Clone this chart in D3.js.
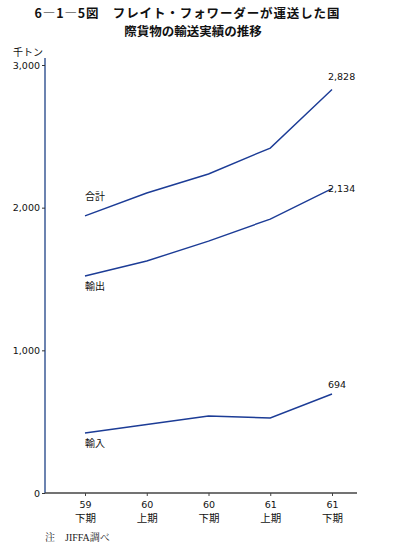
<!DOCTYPE html>
<html><head><meta charset="utf-8">
<script src="https://cdn.jsdelivr.net/npm/d3@7"></script>
<style>body{margin:0;background:#fff}svg{display:block}text{font-family:"Noto Sans CJK JP","Noto Sans",sans-serif}</style>
</head><body><svg id="c" width="394" height="555"></svg>
<script>
const periods = ["59", "60", "60", "61", "61"];
const halves = ["下期", "上期", "下期", "上期", "下期"];
const totalVals = [1942, 2103, 2236, 2418, 2828];
const exportVals = [1521, 1626, 1766, 1920, 2134];
const importVals = [421, 480, 540, 526, 694];
const yTicks = [0, 1000, 2000, 3000];
const seriesNames = ["合計", "輸出", "輸入"];

const svg = d3.select("#c");
const x = d3.scalePoint().domain(d3.range(periods.length)).range([85, 332]);
const y = d3.scaleLinear().domain([0, 3000]).range([493, 65]);
const blue = "#1c3c96";

svg.append("text").attr("x", 187).attr("y", 18).attr("text-anchor", "middle")
  .attr("font-size", 12.5).attr("font-weight", "bold").attr("fill", "#111")
  .attr("textLength", 305).attr("lengthAdjust", "spacing")
  .text("6―1―5図　フレイト・フォワーダーが運送した国");
svg.append("text").attr("x", 193).attr("y", 36).attr("text-anchor", "middle")
  .attr("font-size", 12.5).attr("font-weight", "bold").attr("fill", "#111")
  .text("際貨物の輸送実績の推移");

svg.append("text").attr("x", 13).attr("y", 56).attr("font-size", 10).attr("fill", "#111").text("千トン");

// y axis
const ya = svg.append("g").attr("transform", "translate(45,0)")
  .call(d3.axisLeft(y).tickValues(yTicks).tickSize(3).tickFormat(d3.format(",")));
ya.select(".domain").attr("stroke", "#3b5a96").attr("stroke-width", 1.5).attr("d", "M0,493V58");
ya.selectAll(".tick line").attr("stroke", "#333");
ya.selectAll(".tick text").attr("fill", "#111").attr("x", -5)
  .style("font-family", "'DejaVu Sans',sans-serif").attr("font-size", 9.5);

// x axis
const xa = svg.append("g").attr("transform", "translate(0,493)")
  .call(d3.axisBottom(x).tickSize(3).tickFormat(() => ""));
xa.select(".domain").attr("stroke", "#444").attr("stroke-width", 1.5).attr("d", "M45,0H357");
xa.selectAll(".tick line").attr("stroke", "#444");
xa.selectAll(".tick").each(function(d) {
  const g = d3.select(this);
  g.append("text").attr("y", 15).attr("text-anchor", "middle").attr("fill", "#111")
    .style("font-family", "'DejaVu Sans',sans-serif").attr("font-size", 9.5).text(periods[d]);
  g.append("text").attr("y", 29).attr("text-anchor", "middle").attr("font-size", 10.5).attr("fill", "#111").text(halves[d]);
});

const line = d3.line().x((d, i) => x(i)).y(d => y(d));
[totalVals, exportVals, importVals].forEach(vals => {
  svg.append("path").datum(vals).attr("d", line).attr("fill", "none")
    .attr("stroke", blue).attr("stroke-width", 1.4);
});

// end labels
const last = periods.length - 1;
const endLabel = (vals, dy) => svg.append("text").attr("x", x(last) - 4).attr("y", y(vals[last]) + dy)
  .attr("font-size", 9.5).attr("fill", "#111").style("font-family", "'DejaVu Sans',sans-serif")
  .text(d3.format(",")(vals[last]));
endLabel(totalVals, -10);
endLabel(exportVals, 3);
endLabel(importVals, -6);

// series labels
svg.append("text").attr("x", x(0)).attr("y", y(totalVals[0]) - 16).attr("font-size", 10).attr("fill", "#111").text(seriesNames[0]);
svg.append("text").attr("x", x(0)).attr("y", y(exportVals[0]) + 14).attr("font-size", 10).attr("fill", "#111").text(seriesNames[1]);
svg.append("text").attr("x", x(0)).attr("y", y(importVals[0]) + 14).attr("font-size", 10).attr("fill", "#111").text(seriesNames[2]);

svg.append("text").attr("x", 45).attr("y", 541).attr("font-size", 10).attr("fill", "#222")
  .style("font-family", "'Liberation Serif','Noto Serif CJK JP',serif").text("注　JIFFA調べ");
</script></body></html>
